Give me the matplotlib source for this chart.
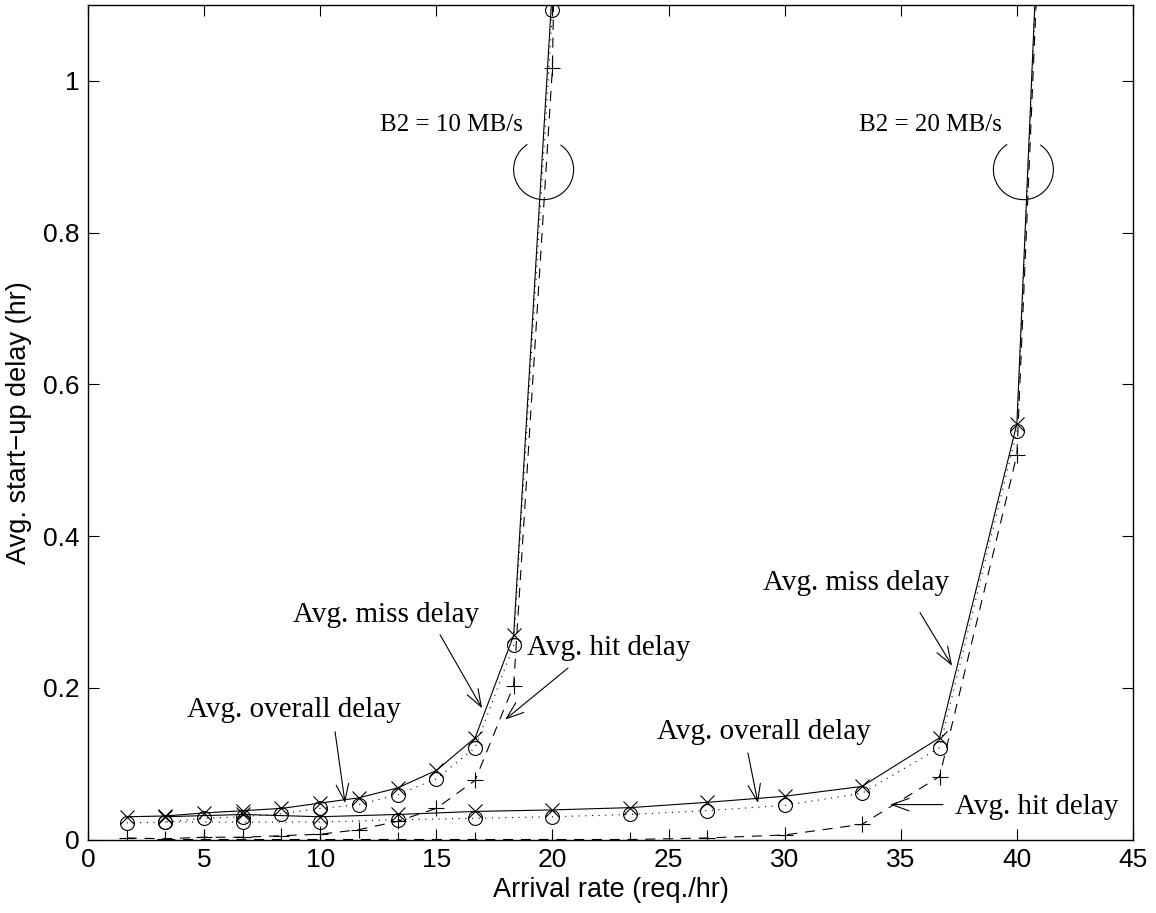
import matplotlib
matplotlib.use("Agg")
import matplotlib.pyplot as plt
from matplotlib import transforms
from matplotlib.patches import Arc

# B2 = 10 MB/s
x10 = [1.67, 3.33, 5, 6.67, 8.33, 10, 11.67, 13.33, 15, 16.67, 18.33, 20, 21.67]
miss10 = [0.030, 0.031, 0.035, 0.038, 0.041, 0.048, 0.055, 0.068, 0.091, 0.134, 0.269, 1.125, 4.0]
overall10 = [0.022, 0.023, 0.028, 0.030, 0.034, 0.041, 0.046, 0.059, 0.080, 0.121, 0.256, 1.093, 4.0]
hit10 = [0.002, 0.001, 0.003, 0.003, 0.005, 0.007, 0.013, 0.024, 0.041, 0.078, 0.203, 1.017, 4.0]

# B2 = 20 MB/s
x20 = [3.33, 6.67, 10, 13.33, 16.67, 20, 23.33, 26.67, 30, 33.33, 36.67, 40, 43.33]
miss20 = [0.030, 0.033, 0.030, 0.033, 0.037, 0.039, 0.042, 0.049, 0.057, 0.070, 0.134, 0.548, 2.93]
overall20 = [0.023, 0.023, 0.023, 0.026, 0.028, 0.030, 0.033, 0.038, 0.045, 0.061, 0.121, 0.538, 2.92]
hit20 = [0.0, 0.0, 0.0, 0.0, 0.0, 0.0, 0.0, 0.002, 0.006, 0.020, 0.083, 0.507, 2.90]

xticks = [0, 5, 10, 15, 20, 25, 30, 35, 40, 45]
yticks = [0, 0.2, 0.4, 0.6, 0.8, 1.0]
ytick_labels = ["0", "0.2", "0.4", "0.6", "0.8", "1"]

# annotations: (text, text x, text y, arrow tail, arrow tip)
notes = [
    ("Avg. miss delay", 8.83, 0.296, (15.16, 0.270), (16.97, 0.173)),
    ("Avg. hit delay", 18.91, 0.253, (20.67, 0.226), (17.96, 0.158)),
    ("Avg. overall delay", 4.26, 0.171, (10.64, 0.142), (11.07, 0.048)),
    ("Avg. miss delay", 29.07, 0.338, (35.83, 0.299), (37.21, 0.229)),
    ("Avg. overall delay", 24.5, 0.142, (28.42, 0.114), (28.85, 0.048)),
    ("Avg. hit delay", 37.34, 0.043, (36.82, 0.046), (34.54, 0.046)),
]
bw_labels = [("B2 = 10 MB/s", 18.73, 0.942, 19.62, 0.883),
             ("B2 = 20 MB/s", 39.36, 0.942, 40.28, 0.883)]

serif = ["Liberation Serif", "DejaVu Serif"]
sans = ["Liberation Sans", "DejaVu Sans"]

fig = plt.figure(figsize=(11.56, 9.13), dpi=100)
ax = fig.add_axes([0.0761, 0.0805, 0.9040, 0.914])

lw = 0.8
for xs, miss, overall, hit in [(x10, miss10, overall10, hit10), (x20, miss20, overall20, hit20)]:
    ax.plot(xs, miss, "-", color="black", lw=lw, marker="x", ms=10, mew=lw)
    ax.plot(xs, overall, ":", color="black", lw=lw, marker="o", ms=10, mew=lw,
            mfc="none", dashes=(1, 5))
    ax.plot(xs, hit, "--", color="black", lw=lw, marker="+", ms=12, mew=lw,
            dashes=(9, 7))

ax.set_xlim(0, 45)
ax.set_ylim(0, 1.1)
ax.set_xticks(xticks)
ax.set_yticks(yticks)
ax.set_yticklabels(ytick_labels)
ax.tick_params(direction="in", length=8, width=0.8, top=True, right=True,
               labelsize=19, pad=6)
for lab in ax.get_xticklabels() + ax.get_yticklabels():
    lab.set_family(sans)
for sp in ax.spines.values():
    sp.set_linewidth(1.0)

ax.set_xlabel("Arrival rate (req./hr)", fontsize=19.5, family=sans, labelpad=4)
ax.set_ylabel("Avg. start\u2212up delay (hr)", fontsize=19.5, family=sans, labelpad=8)

for text, tx, ty, tail, tip in notes:
    ax.text(tx, ty, text, fontsize=21, family=serif, ha="left", va="center")
    ax.annotate("", xy=tip, xytext=tail,
                arrowprops=dict(arrowstyle="->,head_length=0.5,head_width=0.18",
                                lw=lw, color="black", mutation_scale=25,
                                shrinkA=0, shrinkB=0))

for text, tx, ty, cx, cy in bw_labels:
    ax.text(tx, ty, text, fontsize=18, family=serif, ha="right", va="center")
    trans = fig.dpi_scale_trans + transforms.ScaledTranslation(cx, cy, ax.transData)
    ax.add_patch(Arc((0, 0), 0.6, 0.6, theta1=122.6, theta2=415.8,
                     transform=trans, color="black", lw=lw))

fig.savefig("out.png", dpi=100)
